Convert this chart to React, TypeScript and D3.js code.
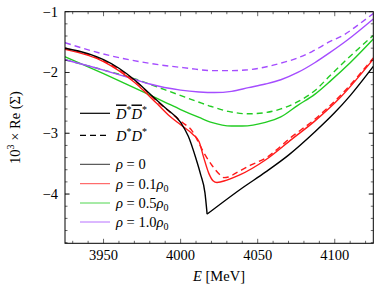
import React from 'react';
import * as d3 from 'd3';

type Pt = [number, number];

// x ticks / y ticks
const xMajor = [3950, 4000, 4050, 4100];
const xMinor = d3.range(3930, 4125, 10);
const yMajor = [-4, -3, -2, -1];
const yMinor = d3.range(-4.8, -1.01, 0.2);

// rho = 0 (both channels coincide), split at the threshold cusp
const blackLeft: Pt[] = [
  [3925, -1.6], [3940, -1.69], [3950, -1.79], [3960, -1.93], [3970, -2.12],
  [3980, -2.35], [3990, -2.58], [4000, -2.82], [4005, -3.05], [4010, -3.42],
  [4013, -3.68], [4015.8, -3.98], [4017.2, -4.33],
];
const blackRight: Pt[] = [
  [4017.2, -4.33], [4040, -3.9], [4055, -3.64], [4070, -3.36], [4087, -2.98],
  [4100, -2.66], [4110, -2.38], [4125, -1.9],
];

// rho = 0.1 rho0
const redSolid: Pt[] = [
  [3925, -1.62], [3950, -1.82], [3970, -2.16], [3985, -2.52], [3993, -2.72],
  [4000, -2.86], [4008, -3.02], [4012, -3.14], [4015, -3.4], [4018.3, -3.66],
  [4021, -3.78], [4023.6, -3.81], [4030, -3.77], [4038, -3.69], [4055, -3.44],
  [4072, -3.1], [4087, -2.8], [4104, -2.4], [4125, -1.78],
];
const redDashed: Pt[] = [
  [3925, -1.6], [3950, -1.81], [3970, -2.13], [3985, -2.48], [4000, -2.8],
  [4008, -2.98], [4013, -3.22], [4016, -3.36], [4020.4, -3.53], [4025, -3.67],
  [4028, -3.73], [4031, -3.72], [4035.5, -3.66], [4045, -3.53], [4055, -3.41],
  [4072, -3.06], [4087, -2.77], [4104, -2.37], [4125, -1.76],
];

// rho = 0.5 rho0
const greenSolid: Pt[] = [
  [3925, -1.74], [3950, -2.02], [3975, -2.31], [3990, -2.49], [4000, -2.61],
  [4012, -2.74], [4020, -2.82], [4033, -2.88], [4040, -2.88], [4055, -2.82],
  [4065, -2.73], [4076, -2.54], [4087, -2.36], [4097.6, -2.13], [4110, -1.84],
  [4125, -1.45],
];
const greenDashed: Pt[] = [
  [3925, -1.79], [3950, -1.96], [3971, -2.11], [3985, -2.24], [3999, -2.37],
  [4012, -2.49], [4020, -2.56], [4031, -2.64], [4044, -2.68], [4055, -2.66],
  [4065, -2.6], [4076, -2.48], [4087, -2.3], [4097, -2.05], [4108, -1.78],
  [4125, -1.39],
];

// rho = 1.0 rho0
const purpleSolid: Pt[] = [
  [3925, -1.79], [3950, -1.96], [3971, -2.12], [3980, -2.19], [4000, -2.29],
  [4012, -2.32], [4022, -2.33], [4033, -2.31], [4044, -2.25], [4055, -2.19],
  [4065, -2.12], [4076, -2.0], [4087, -1.84], [4097, -1.67], [4108, -1.47],
  [4125, -1.12],
];
const purpleDashed: Pt[] = [
  [3925, -1.51], [3947.5, -1.68], [3980, -1.85], [4005, -1.93], [4020, -1.97],
  [4030, -1.97], [4042, -1.96], [4055, -1.91], [4063, -1.86], [4076, -1.76],
  [4085, -1.66], [4097, -1.49], [4106, -1.38], [4115, -1.22], [4125, -1.03],
];

const RED = '#ff1a1a';
const GREEN = '#22cc22';
const PURPLE = '#a54dff';

const W = 374;
const H = 292;
const margin = { top: 11.7, right: 0.7, bottom: 48.7, left: 65 };
const FONT = '"Liberation Serif", "DejaVu Serif", serif';

const App: React.FC = () => {
  const x = d3.scaleLinear().domain([3925, 4125]).range([margin.left, W - margin.right]);
  const y = d3.scaleLinear().domain([-4.81, -1]).range([H - margin.bottom, margin.top]);
  const line = d3.line<Pt>()
    .x(d => x(d[0]))
    .y(d => y(d[1]))
    .curve(d3.curveMonotoneX);

  const x0 = margin.left, x1 = W - margin.right;
  const y0 = margin.top, y1 = H - margin.bottom;

  const series = [
    { d: greenDashed, c: GREEN, dash: '6,4' },
    { d: greenSolid, c: GREEN },
    { d: purpleDashed, c: PURPLE, dash: '6,4' },
    { d: purpleSolid, c: PURPLE },
    { d: redDashed, c: RED, dash: '6,4' },
    { d: redSolid, c: RED },
    { d: blackLeft, c: '#000' },
    { d: blackRight, c: '#000' },
  ];

  const legendX = 80;
  const rhoRows = [
    { c: '#000', label: '0', y: 164.3 },
    { c: RED, label: '0.1', y: 183.7, sub: true },
    { c: GREEN, label: '0.5', y: 203, sub: true },
    { c: PURPLE, label: '1.0', y: 222, sub: true },
  ];

  return (
    <svg width={W} height={H} style={{ position: 'absolute', left: 0, top: 0 }}
      fontFamily={FONT}>
      <defs>
        <clipPath id="plot">
          <rect x={x0} y={y0} width={x1 - x0} height={y1 - y0} />
        </clipPath>
      </defs>
      <g clipPath="url(#plot)">
        {series.map((s, i) => (
          <path key={i} d={line(s.d) || ''} fill="none" stroke={s.c}
            strokeWidth={1.4} strokeDasharray={s.dash} />
        ))}
      </g>

      {/* ticks */}
      <g stroke="#000" strokeWidth={0.6}>
        {xMinor.map(v => (
          <g key={'xm' + v}>
            <line x1={x(v)} x2={x(v)} y1={y1} y2={y1 - (xMajor.includes(v) ? 4.5 : 2.5)} />
            <line x1={x(v)} x2={x(v)} y1={y0} y2={y0 + (xMajor.includes(v) ? 4.5 : 2.5)} />
          </g>
        ))}
        {yMinor.map((v, i) => {
          const major = yMajor.some(m => Math.abs(m - v) < 1e-6);
          return (
            <g key={'ym' + i}>
              <line x1={x0} x2={x0 + (major ? 4.5 : 2.5)} y1={y(v)} y2={y(v)} />
              <line x1={x1} x2={x1 - (major ? 4.5 : 2.5)} y1={y(v)} y2={y(v)} />
            </g>
          );
        })}
        {yMajor.map(v => (
          <g key={'yM' + v}>
            <line x1={x0} x2={x0 + 4.5} y1={y(v)} y2={y(v)} />
            <line x1={x1} x2={x1 - 4.5} y1={y(v)} y2={y(v)} />
          </g>
        ))}
      </g>
      <rect x={x0} y={y0} width={x1 - x0} height={y1 - y0} fill="none" stroke="#000" strokeWidth={1} />

      {/* tick labels */}
      <g fontSize={14.5} fill="#000">
        {xMajor.map(v => (
          <text key={'xl' + v} x={x(v)} y={259.5} textAnchor="middle">{v}</text>
        ))}
        {yMajor.map(v => (
          <text key={'yl' + v} x={58} y={y(v) + 5} textAnchor="end">{'\u2212' + Math.abs(v)}</text>
        ))}
      </g>

      {/* axis titles */}
      <text x={219} y={281} textAnchor="middle" fontSize={14.5}>
        <tspan fontStyle="italic">E</tspan> [MeV]
      </text>
      <text transform={`translate(20,${(y0 + y1) / 2}) rotate(-90)`} textAnchor="middle" fontSize={14.5}>
        10<tspan dy={-6} fontSize={10}>3</tspan><tspan dy={6}> × Re (Σ)</tspan>
      </text>

      {/* legend */}
      <line x1={legendX} x2={legendX + 30} y1={113.3} y2={113.3} stroke="#000" strokeWidth={1.2} />
      <text x={116} y={118.5} fontSize={14.5}>
        <tspan fontStyle="italic" textDecoration="overline">D</tspan>
        <tspan dy={-6} fontSize={10}>*</tspan>
        <tspan dy={6} fontStyle="italic" textDecoration="overline">D</tspan>
        <tspan dy={-6} fontSize={10}>*</tspan>
      </text>
      <line x1={legendX} x2={legendX + 30} y1={135.3} y2={135.3} stroke="#000" strokeWidth={1.2} strokeDasharray="6,4" />
      <text x={116} y={140.5} fontSize={14.5}>
        <tspan fontStyle="italic">D</tspan>
        <tspan dy={-6} fontSize={10}>*</tspan>
        <tspan dy={6} fontStyle="italic">D</tspan>
        <tspan dy={-6} fontSize={10}>*</tspan>
      </text>
      {rhoRows.map(r => (
        <g key={r.label}>
          <line x1={legendX} x2={legendX + 30} y1={r.y} y2={r.y} stroke={r.c} strokeWidth={0.8} />
          <text x={116} y={r.y + 5} fontSize={14.5}>
            <tspan fontStyle="italic">ρ</tspan> = {r.label}
            {r.sub && <tspan fontStyle="italic">ρ</tspan>}
            {r.sub && <tspan dy={3} fontSize={10}>0</tspan>}
          </text>
        </g>
      ))}
    </svg>
  );
};

export default App;
